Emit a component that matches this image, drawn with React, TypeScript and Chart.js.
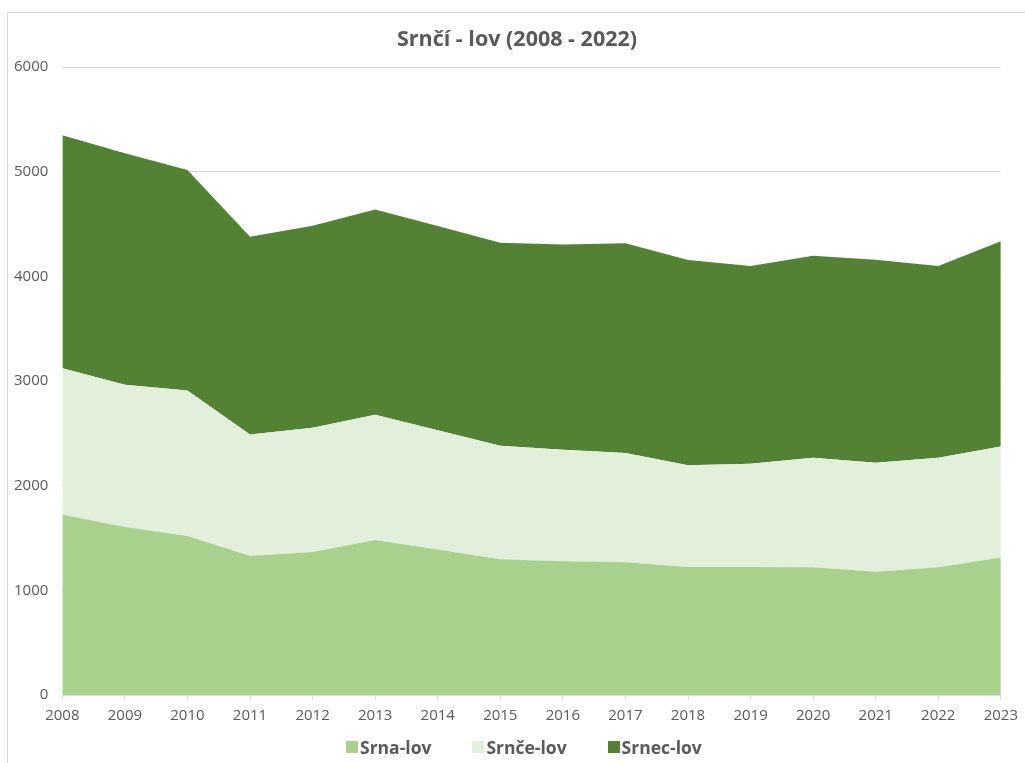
import React, { useEffect, useRef } from "react";
import { Chart, registerables } from "chart.js";

Chart.register(...registerables);

const years = ["2008","2009","2010","2011","2012","2013","2014","2015","2016","2017","2018","2019","2020","2021","2022","2023"];
const srna = [1724,1606,1520,1329,1367,1482,1390,1297,1278,1269,1224,1224,1221,1177,1221,1314];
const srnce = [1398,1357,1389,1161,1186,1196,1140,1085,1065,1043,970,986,1046,1043,1046,1061];
const srnec = [2225,2212,2106,1888,1930,1961,1951,1939,1962,2003,1962,1889,1930,1939,1832,1959];

const seriesNames = ["Srna-lov", "Srnče-lov", "Srnec-lov"];
const seriesColors = ["#A9D18E", "#E2EFDA", "#548235"];
const chartTitle = "Srnčí - lov (2008 - 2022)";

const FONT = "'Open Sans', sans-serif";

export default function App() {
  const ref = useRef<HTMLCanvasElement>(null);
  useEffect(() => {
    if (!ref.current) return;
    const values = [srna, srnce, srnec];
    const chart = new Chart(ref.current, {
      type: "line",
      data: {
        labels: years,
        datasets: values.map((d, i) => ({
          label: seriesNames[i],
          data: d,
          backgroundColor: seriesColors[i],
          borderColor: seriesColors[i],
          borderWidth: 0,
          fill: i === 0 ? "origin" : "-1",
          pointRadius: 0,
        })),
      },
      options: {
        animation: false,
        responsive: false,
        layout: { padding: { left: 0, right: 16, top: 67, bottom: 31 } },
        plugins: {
          title: { display: false },
          legend: { display: false },
          tooltip: { enabled: false },
        },
        scales: {
          x: {
            offset: false,
            grid: { drawOnChartArea: false, drawTicks: true, tickLength: 5, color: "#d9d9d9" },
            border: { color: "#d9d9d9" },
            ticks: { color: "#595959", font: { family: FONT, size: 15 }, padding: 7, maxRotation: 0, autoSkip: false },
          },
          y: {
            stacked: true,
            min: 0,
            max: 6000,
            grid: { color: "#d9d9d9", drawTicks: false },
            border: { display: false },
            ticks: {
              stepSize: 1000,
              color: "#595959",
              font: { family: FONT, size: 15 },
              padding: 14,
              callback: (v: any) => String(v),
            },
          },
        },
      },
    });
    return () => chart.destroy();
  }, []);
  return (
    <div style={{ position: "fixed", left: 0, top: 0, width: 1025, height: 763, background: "#fff" }}>
      <div style={{ position: "absolute", left: 7, top: 12, width: 1030, height: 760, border: "1px solid #d9d9d9" }} />
      <canvas ref={ref} width={1025} height={763} style={{ position: "absolute", left: 0, top: 0 }} />
      <div
        style={{
          position: "absolute",
          left: 317,
          width: 400,
          top: 24,
          textAlign: "center",
          fontFamily: FONT,
          fontSize: 21.5,
          fontWeight: "bold",
          color: "#595959",
          lineHeight: "28px",
          whiteSpace: "nowrap",
        }}
      >
        {chartTitle}
      </div>
      <div
        style={{
          position: "absolute",
          left: 346,
          top: 735,
          display: "flex",
          alignItems: "center",
          gap: 41,
          fontFamily: FONT,
          fontSize: 17.5,
          fontWeight: "bold",
          color: "#595959",
          lineHeight: "24px",
          whiteSpace: "nowrap",
        }}
      >
        {seriesNames.map((n, i) => (
          <div key={n} style={{ display: "flex", alignItems: "center" }}>
            <span style={{ display: "inline-block", width: 12, height: 12, background: seriesColors[i], marginRight: 2 }} />
            <span>{n}</span>
          </div>
        ))}
      </div>
    </div>
  );
}
